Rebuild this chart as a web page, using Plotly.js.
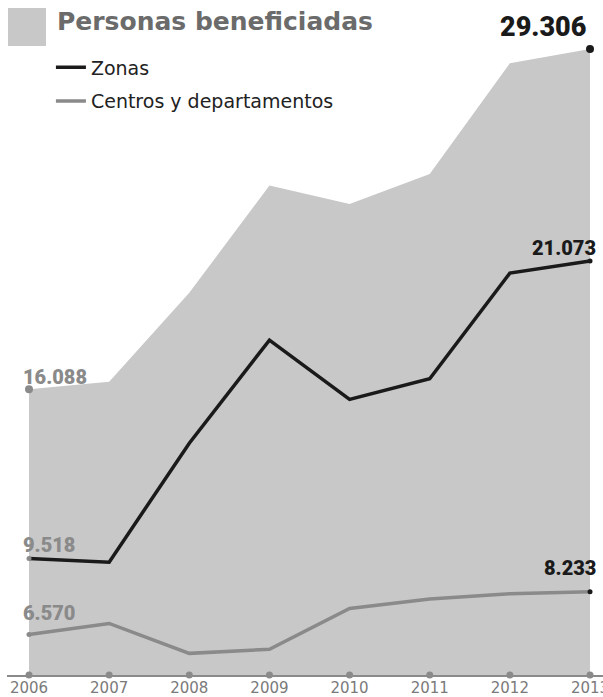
<!DOCTYPE html>
<html><head><meta charset="utf-8">
<script src="https://cdn.plot.ly/plotly-3.0.1.min.js"></script>
<style>html,body{margin:0;padding:0;background:#fff}</style>
</head><body><div id="chart" style="width:603px;height:697px"></div>
<script>
const years = [2006, 2007, 2008, 2009, 2010, 2011, 2012, 2013];
const yearLabels = ['2006', '2007', '2008', '2009', '2010', '2011', '2012', '2013'];
const zonas = [9518, 9380, 14000, 18000, 15700, 16500, 20600, 21073];
const centros = [6570, 7000, 5840, 6000, 7580, 7950, 8150, 8233];
const total = zonas.map((v, i) => v + centros[i]);
const seriesNames = ['Zonas', 'Centros y departamentos'];
const chartTitle = 'Personas beneficiadas';

const YMIN = 5000, YMAX = 30000;
const GRAY = '#8a8a8a', BLACK = '#1a1a1a', AREA = '#c8c8c8';
const fmt = v => String(v).replace(/\B(?=(\d{3})+(?!\d))/g, '.');
const last = years.length - 1;
const ends = arr => [arr[0], arr[last]];
const endX = [years[0], years[last]];

const traces = [
  {x: years, y: total, type: 'scatter', mode: 'lines', fill: 'tozeroy', fillcolor: AREA,
   line: {width: 0, color: AREA}, showlegend: false, hoverinfo: 'skip'},
  {x: years, y: zonas, type: 'scatter', mode: 'lines', name: seriesNames[0], legendgroup: 'a',
   line: {color: BLACK, width: 3.5}},
  {x: years, y: centros, type: 'scatter', mode: 'lines', name: seriesNames[1], legendgroup: 'b',
   line: {color: GRAY, width: 3.5}},
  {x: endX, y: ends(total), type: 'scatter', mode: 'markers', showlegend: false, cliponaxis: false,
   marker: {size: 8, color: [GRAY, BLACK]}},
  {x: endX, y: ends(zonas), type: 'scatter', mode: 'markers', showlegend: false, cliponaxis: false,
   marker: {size: 5, color: [GRAY, BLACK]}},
  {x: endX, y: ends(centros), type: 'scatter', mode: 'markers', showlegend: false, cliponaxis: false,
   marker: {size: 5, color: [GRAY, BLACK]}},
  {x: years, y: years.map(() => YMIN), type: 'scatter', mode: 'markers', showlegend: false, cliponaxis: false,
   marker: {size: 7, color: GRAY}}
];

const numFont = (size, color) => ({family: 'Roboto, sans-serif', size: size, color: color, weight: 900});
const annotations = [
  {x: years[0], y: total[0], text: fmt(total[0]), xanchor: 'left', yanchor: 'bottom', xshift: -8, yshift: -2, font: numFont(20, GRAY)},
  {x: years[0], y: zonas[0], text: fmt(zonas[0]), xanchor: 'left', yanchor: 'bottom', xshift: -8, yshift: 0, font: numFont(20, GRAY)},
  {x: years[0], y: centros[0], text: fmt(centros[0]), xanchor: 'left', yanchor: 'bottom', xshift: -8, yshift: 8, font: numFont(20, GRAY)},
  {x: years[last], y: total[last], text: fmt(total[last]), xanchor: 'right', yanchor: 'bottom', xshift: -2, yshift: 4, font: numFont(27, BLACK)},
  {x: years[last], y: zonas[last], text: fmt(zonas[last]), xanchor: 'right', yanchor: 'bottom', xshift: 8, yshift: -1, font: numFont(20, BLACK)},
  {x: years[last], y: centros[last], text: fmt(centros[last]), xanchor: 'right', yanchor: 'bottom', xshift: 8, yshift: 10, font: numFont(20, BLACK)},
  {xref: 'paper', yref: 'paper', x: 0.081, y: 1.0145, text: chartTitle, xanchor: 'left', yanchor: 'middle',
   font: {family: 'DejaVu Sans, sans-serif', size: 25, color: '#6b6b6b', weight: 700}}
].map(a => Object.assign({showarrow: false}, a));

const layout = {
  width: 603, height: 697,
  margin: {l: 7, r: 0, t: 31, b: 22},
  paper_bgcolor: '#fff', plot_bgcolor: '#fff',
  showlegend: true,
  legend: {x: 0.0737, y: 0.973, xanchor: 'left', yanchor: 'top', traceorder: 'grouped', tracegroupgap: 6,
           bgcolor: 'rgba(0,0,0,0)', font: {family: 'DejaVu Sans, sans-serif', size: 19, color: '#222'}},
  xaxis: {range: [2005.7255, 2013.162], showgrid: false, zeroline: false, showline: true, linecolor: GRAY, linewidth: 2,
          tickvals: years, ticktext: yearLabels, ticks: '', ticklabeloverflow: 'allow', fixedrange: true,
          ticklabelstandoff: -2,
          tickfont: {family: 'DejaVu Sans, sans-serif', size: 15, color: '#7a7a7a'}},
  yaxis: {range: [YMIN, YMAX], visible: false, fixedrange: true},
  shapes: [{type: 'rect', xref: 'paper', yref: 'paper', x0: 0.0017, x1: 0.0654, y0: 0.9767, y1: 1.0357,
            fillcolor: AREA, line: {width: 0}}],
  annotations: annotations
};
Plotly.newPlot('chart', traces, layout, {displayModeBar: false, staticPlot: true});
</script></body></html>
